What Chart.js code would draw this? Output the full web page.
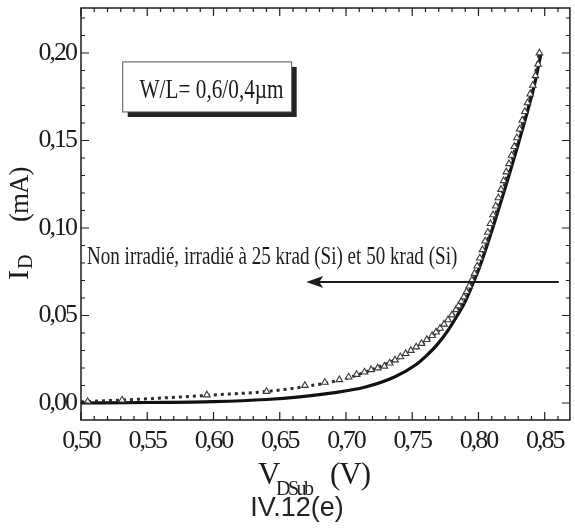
<!DOCTYPE html>
<html>
<head>
<meta charset="utf-8">
<script src="https://cdn.jsdelivr.net/npm/chart.js@4.4.0/dist/chart.umd.min.js"></script>
<style>
  html, body { margin: 0; padding: 0; background: #fff; }
  canvas { display: block; }
</style>
</head>
<body>
<canvas id="myChart" width="575" height="529"></canvas>
<script>
(function () {
  'use strict'

  // Non irradié (trait plein)
  const vdsNonIrr = [0.500, 0.550, 0.600, 0.640, 0.665, 0.690, 0.714, 0.737, 0.753, 0.760, 0.769,
    0.777, 0.784, 0.790, 0.794, 0.800, 0.806, 0.812, 0.818, 0.824, 0.830, 0.836, 0.842, 0.847]
  const idNonIrr = [0.0000, 0.0003, 0.0008, 0.0020, 0.0035, 0.0058, 0.0090, 0.0150, 0.0220, 0.0265, 0.0335,
    0.0415, 0.0500, 0.0580, 0.0650, 0.0760, 0.0890, 0.1030, 0.1175, 0.1325, 0.1480, 0.1640, 0.1810, 0.1990]

  // irradié 25 krad(Si) (pointillés)
  const vds25 = [0.500, 0.550, 0.600, 0.640, 0.670, 0.700, 0.720, 0.740, 0.760, 0.780, 0.790,
    0.800, 0.810, 0.820, 0.830, 0.840, 0.846]
  const id25 = [0.0007, 0.0024, 0.0046, 0.0066, 0.0095, 0.0140, 0.0192, 0.0258, 0.0350, 0.0495, 0.0610,
    0.0775, 0.1005, 0.1255, 0.1515, 0.1780, 0.2000]

  // irradié 50 krad(Si) (triangles)
  const vds50 = [0.505, 0.531, 0.595, 0.640, 0.669, 0.684, 0.695, 0.702, 0.708, 0.714, 0.719, 0.724,
    0.729, 0.733, 0.737, 0.741, 0.745, 0.749, 0.753, 0.757, 0.761, 0.765, 0.768, 0.771, 0.774, 0.777,
    0.780, 0.783, 0.785, 0.787, 0.789, 0.791, 0.793, 0.795, 0.797, 0.799, 0.801, 0.803, 0.805, 0.807,
    0.809, 0.811, 0.813, 0.815, 0.817, 0.819, 0.821, 0.823, 0.825, 0.827, 0.829, 0.831, 0.833, 0.835,
    0.837, 0.839, 0.841, 0.843, 0.845, 0.846]
  const id50 = [0.0008, 0.0017, 0.0046, 0.0066, 0.0100, 0.0118, 0.0133, 0.0148, 0.0163, 0.0177, 0.0190, 0.0200,
    0.0210, 0.0228, 0.0246, 0.0264, 0.0282, 0.0300, 0.0320, 0.0340, 0.0362, 0.0385, 0.0405, 0.0427, 0.0450, 0.0475,
    0.0503, 0.0533, 0.0555, 0.0580, 0.0606, 0.0636, 0.0668, 0.0702, 0.0740, 0.0782, 0.0828, 0.0876, 0.0925, 0.0975,
    0.1025, 0.1075, 0.1125, 0.1172, 0.1220, 0.1270, 0.1320, 0.1367, 0.1415, 0.1465, 0.1515, 0.1565, 0.1615, 0.1665,
    0.1715, 0.1765, 0.1815, 0.1870, 0.1935, 0.2000]

  const xTicks = [0.50, 0.55, 0.60, 0.65, 0.70, 0.75, 0.80, 0.85]
  const yTicks = [0.00, 0.05, 0.10, 0.15, 0.20]

  const INK = '#1c1c1c'
  const SERIF = "'Liberation Serif', 'Times New Roman', serif"

  const pts = (xs, ys) => xs.map((x, i) => ({ x: x, y: ys[i] }))
  const comma = v => Number(v).toFixed(2).replace('.', ',')

  // annotations, in data units
  const note = { text: 'Non irradié, irradié à 25 krad (Si) et 50 krad (Si)', x0: 0.5045, x1: 0.784, y: 0.0795 }
  const arrow = { from: 0.8606, to: 0.670, y: 0.0691 }
  const box = { text: 'W/L= 0,6/0,4µm', x0: 0.5315, x1: 0.659, yTop: 0.1949, yBot: 0.1663, tx0: 0.5442, tx1: 0.6529, ty: 0.1745 }

  // draw text squeezed to a given width
  function fitText(ctx, str, x, y, w) {
    const m = ctx.measureText(str).width
    ctx.save()
    ctx.translate(x, y)
    ctx.scale(w / m, 1)
    ctx.fillText(str, 0, 0)
    ctx.restore()
  }

  const decor = {
    id: 'decor',
    beforeDraw(chart) { chart.ctx.letterSpacing = '-2px' },
    beforeDatasetsDraw(chart) { chart.ctx.letterSpacing = '0px' },
    afterDraw(chart) {
      const ctx = chart.ctx
      const xs = chart.scales.x
      const ys = chart.scales.y
      const a = chart.chartArea
      ctx.save()
      ctx.letterSpacing = '0px'

      // frame
      ctx.strokeStyle = INK
      ctx.lineWidth = 1.5
      ctx.strokeRect(a.left, a.top, a.right - a.left, a.bottom - a.top)

      // inward ticks, minor every 0.01
      ctx.lineWidth = 1.2
      ctx.beginPath()
      for (let k = 0; k <= 36; k++) {
        const px = xs.getPixelForValue(0.5 + k / 100)
        const len = k % 5 === 0 ? 8 : 4
        ctx.moveTo(px, a.bottom); ctx.lineTo(px, a.bottom - len)
        ctx.moveTo(px, a.top); ctx.lineTo(px, a.top + len)
      }
      for (let k = 0; k <= 22; k++) {
        const py = ys.getPixelForValue(k / 100)
        const len = k % 5 === 0 ? 8 : 4
        ctx.moveTo(a.left, py); ctx.lineTo(a.left + len, py)
        ctx.moveTo(a.right, py); ctx.lineTo(a.right - len, py)
      }
      ctx.stroke()

      ctx.fillStyle = INK
      ctx.textBaseline = 'alphabetic'

      // W/L box with shadow
      const bx0 = xs.getPixelForValue(box.x0), bx1 = xs.getPixelForValue(box.x1)
      const by0 = ys.getPixelForValue(box.yTop), by1 = ys.getPixelForValue(box.yBot)
      ctx.fillStyle = '#222'
      ctx.fillRect(bx0 + 5, by0 + 5, bx1 - bx0, by1 - by0)
      ctx.fillStyle = '#fff'
      ctx.fillRect(bx0, by0, bx1 - bx0, by1 - by0)
      ctx.strokeStyle = '#555'
      ctx.lineWidth = 1
      ctx.strokeRect(bx0, by0, bx1 - bx0, by1 - by0)
      ctx.fillStyle = INK
      ctx.font = '28px ' + SERIF
      const tx0 = xs.getPixelForValue(box.tx0), tx1 = xs.getPixelForValue(box.tx1)
      fitText(ctx, box.text, tx0, ys.getPixelForValue(box.ty), tx1 - tx0)

      // note + arrow
      ctx.font = '26px ' + SERIF
      const nx0 = xs.getPixelForValue(note.x0), nx1 = xs.getPixelForValue(note.x1)
      fitText(ctx, note.text, nx0, ys.getPixelForValue(note.y), nx1 - nx0)

      const ax0 = xs.getPixelForValue(arrow.from), ax1 = xs.getPixelForValue(arrow.to)
      const ay = ys.getPixelForValue(arrow.y)
      ctx.strokeStyle = INK
      ctx.lineWidth = 2
      ctx.beginPath()
      ctx.moveTo(ax0, ay); ctx.lineTo(ax1 + 10, ay)
      ctx.stroke()
      ctx.beginPath()
      ctx.moveTo(ax1, ay)
      ctx.lineTo(ax1 + 17, ay - 6)
      ctx.lineTo(ax1 + 13, ay)
      ctx.lineTo(ax1 + 17, ay + 6)
      ctx.closePath()
      ctx.fill()

      // y title: I_D (mA)
      ctx.save()
      ctx.translate(28, 280)
      ctx.rotate(-Math.PI / 2)
      ctx.font = '30px ' + SERIF
      ctx.fillText('I', 0, 0)
      const w = ctx.measureText('I').width
      ctx.font = '20px ' + SERIF
      ctx.fillText('D', w + 1, 4)
      ctx.font = '27px ' + SERIF
      ctx.letterSpacing = '-1px'
      ctx.fillText('(mA)', 58, 0)
      ctx.restore()

      // x title: V_DSub (V)
      ctx.save()
      ctx.font = '31px ' + SERIF
      ctx.fillText('V', 258, 484)
      ctx.font = '20px ' + SERIF
      ctx.letterSpacing = '-2.5px'
      ctx.fillText('DSub', 276, 495)
      ctx.letterSpacing = '-1px'
      ctx.font = '31px ' + SERIF
      ctx.fillText('(V)', 330, 484)
      ctx.restore()

      // figure label
      ctx.font = '27px "Liberation Sans", Arial, sans-serif'
      ctx.textAlign = 'center'
      ctx.fillStyle = '#222'
      ctx.fillText('IV.12(e)', 297, 516)

      ctx.restore()
    }
  }

  const ctx = document.getElementById('myChart')

  // eslint-disable-next-line no-unused-vars
  const myChart = new Chart(ctx, {
    type: 'scatter',
    data: {
      datasets: [
        {
          label: 'Non irradié',
          data: pts(vdsNonIrr, idNonIrr),
          showLine: true,
          borderColor: '#111',
          borderWidth: 3.2,
          pointRadius: 0,
          cubicInterpolationMode: 'monotone',
          order: 3
        },
        {
          label: '25 krad (Si)',
          data: pts(vds25, id25),
          showLine: true,
          borderColor: '#2a2a2a',
          borderWidth: 3,
          borderDash: [3, 4],
          pointRadius: 0,
          cubicInterpolationMode: 'monotone',
          order: 2
        },
        {
          label: '50 krad (Si)',
          data: pts(vds50, id50),
          showLine: false,
          pointStyle: 'triangle',
          pointRadius: 3.8,
          pointBorderWidth: 1.1,
          pointBorderColor: '#3a3a3a',
          pointBackgroundColor: '#ffffff',
          order: 1
        }
      ]
    },
    options: {
      responsive: false,
      animation: false,
      events: [],
      layout: { padding: { top: 8, right: 2, left: 0, bottom: 0 } },
      plugins: {
        legend: { display: false },
        tooltip: { enabled: false }
      },
      scales: {
        x: {
          type: 'linear',
          min: 0.50,
          max: 0.869,
          afterBuildTicks: s => { s.ticks = xTicks.map(v => ({ value: v })) },
          afterFit: s => { s.height = 109; s.paddingLeft = 0; s.paddingRight = 0 },
          grid: { display: false, drawTicks: false },
          border: { display: false },
          ticks: {
            autoSkip: false,
            maxRotation: 0,
            padding: 6,
            color: INK,
            font: { family: SERIF, size: 26 },
            callback: v => comma(v)
          }
        },
        y: {
          type: 'linear',
          min: -0.0097,
          max: 0.2257,
          afterBuildTicks: s => { s.ticks = yTicks.map(v => ({ value: v })) },
          afterFit: s => { s.width = 81; s.paddingTop = 0; s.paddingBottom = 0 },
          grid: { display: false, drawTicks: false },
          border: { display: false },
          ticks: {
            padding: 5,
            color: INK,
            font: { family: SERIF, size: 26 },
            callback: v => comma(v)
          }
        }
      }
    },
    plugins: [decor]
  })
})()
</script>
</body>
</html>
